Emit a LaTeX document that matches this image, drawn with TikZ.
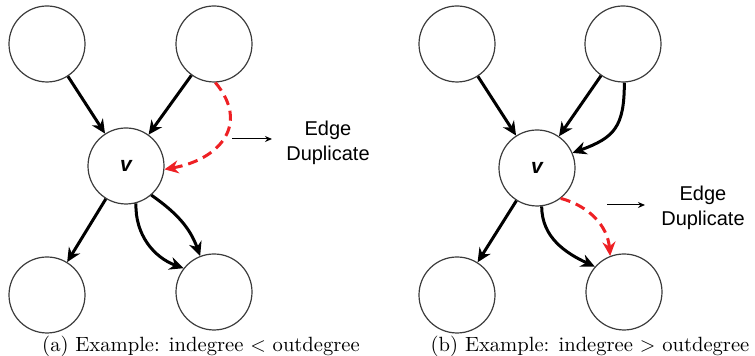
\documentclass[tikz,border=0pt]{standalone}
\usepackage{fontspec}
\usepackage{tikz}
\usetikzlibrary{arrows.meta}
\newfontfamily\arialfont{Liberation Sans}
\definecolor{dupred}{RGB}{238,32,36}
\definecolor{ring}{RGB}{60,60,60}

\begin{document}
\begin{tikzpicture}[
  x=0.5pt, y=0.5pt,
  vertex/.style={circle, draw=ring, line width=0.6pt, minimum size=38pt, inner sep=0pt,
                 font=\arialfont\bfseries\itshape\fontsize{10.5}{12}\selectfont},
  edge/.style={-{Stealth[length=7pt,width=6.5pt]}, line width=1.5pt},
  dup/.style={edge, color=dupred, dash pattern=on 5pt off 3pt},
  note/.style={align=center, font=\arialfont\fontsize{10}{12.5}\selectfont},
  pointer/.style={-{Stealth[length=3.5pt,width=3pt]}, line width=0.5pt},
  subcap/.style={font=\fontsize{10.3}{12}\selectfont}
]
  \useasboundingbox (0,0) rectangle (755,356);

  % (a) indegree < outdegree
  \node[vertex] (a1) at (47,312) {};
  \node[vertex] (a2) at (214,312) {};
  \node[vertex] (av) at (126,190) {v};
  \node[vertex] (a3) at (47,61) {};
  \node[vertex] (a4) at (214,64) {};
  \draw[edge] (a1)--(av);
  \draw[edge] (a2)--(av);
  \draw[edge] (av)--(a3);
  \draw[edge] (av.-49) to[out=-35,in=110] (a4.111);
  \draw[edge] (av.-75) to[out=-92,in=160] (a4.142);
  \draw[dup] (a2.-88) to[out=-50,in=10,looseness=1.4] (av.-5);
  \node[note] (adup) at (328,213) {Edge\\Duplicate};
  \coordinate (atail) at (232,217);
  \coordinate (ahead) at (272,217);
  \draw[pointer] (atail)--(ahead);
  \node[subcap] (acap) at (201,10) {(a) Example: indegree $<$ outdegree};

  % (b) indegree > outdegree
  \node[vertex] (b1) at (457,312) {};
  \node[vertex] (b2) at (623,312) {};
  \node[vertex] (bv) at (537,188) {v};
  \node[vertex] (b3) at (457,61) {};
  \node[vertex] (b4) at (624,64) {};
  \draw[edge] (b1)--(bv);
  \draw[edge] (b2)--(bv);
  \draw[edge] (b2.-88) to[out=-90,in=20,looseness=1.3] (bv.23);
  \draw[edge] (bv)--(b3);
  \draw[edge] (bv.-83) to[out=-90,in=155] (b4.139);
  \draw[dup] (bv.-52) to[out=-15,in=95] (b4.111);
  \node[note] (bdup) at (703,148) {Edge\\Duplicate};
  \coordinate (btail) at (607,151);
  \coordinate (bhead) at (645,151);
  \draw[pointer] (btail)--(bhead);
  \node[subcap] (bcap) at (590,10) {(b) Example: indegree $>$ outdegree};
\end{tikzpicture}
\end{document}
